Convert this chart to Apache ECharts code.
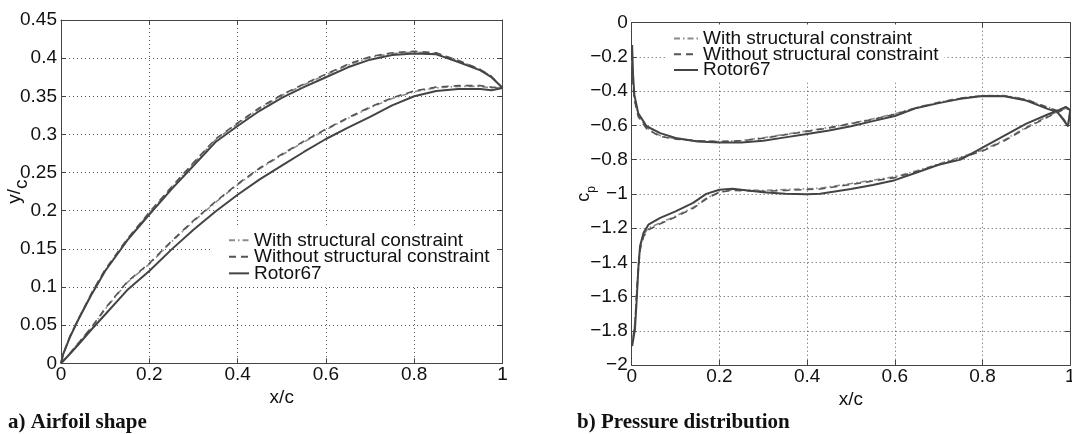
<!DOCTYPE html>
<html>
<head>
<meta charset="utf-8">
<script src="https://cdn.jsdelivr.net/npm/echarts@6/dist/echarts.min.js"></script>
<style>
  html, body { margin: 0; background: #fff; }
  #chart { width: 1072px; height: 434px; }
</style>
</head>
<body>
<div id="chart"></div>
<script>
// ---- a) airfoil shape: chordwise stations, suction (upper) and pressure (lower) surface
const xStations = [0, 0.005, 0.02, 0.04, 0.07, 0.1, 0.15, 0.2, 0.25, 0.3, 0.35, 0.4, 0.45,
  0.5, 0.55, 0.6, 0.65, 0.7, 0.75, 0.8, 0.85, 0.9, 0.95, 0.975, 1.0];
const rotorUpper = [0, 0.012, 0.034, 0.058, 0.091, 0.121, 0.161, 0.195, 0.228, 0.259, 0.29, 0.311,
  0.331, 0.348, 0.362, 0.375, 0.388, 0.398, 0.404, 0.406, 0.405, 0.395, 0.384, 0.375, 0.361];
const withUpper = [0, 0.012, 0.035, 0.059, 0.092, 0.122, 0.162, 0.197, 0.23, 0.262, 0.293, 0.314,
  0.334, 0.351, 0.365, 0.378, 0.391, 0.401, 0.406, 0.408, 0.406, 0.397, 0.385, 0.376, 0.361];
const withoutUpper = [0, 0.012, 0.035, 0.059, 0.093, 0.123, 0.163, 0.198, 0.231, 0.263, 0.294, 0.315,
  0.335, 0.352, 0.366, 0.379, 0.392, 0.402, 0.407, 0.409, 0.407, 0.397, 0.385, 0.376, 0.361];
const rotorLower = [0, 0.003, 0.012, 0.025, 0.045, 0.064, 0.096, 0.121, 0.149, 0.175, 0.199, 0.221,
  0.241, 0.259, 0.277, 0.294, 0.309, 0.323, 0.338, 0.35, 0.357, 0.3595, 0.3595, 0.358, 0.361];
const withLower = [0, 0.003, 0.013, 0.027, 0.047, 0.071, 0.106, 0.13, 0.159, 0.186, 0.211, 0.234,
  0.255, 0.273, 0.29, 0.306, 0.321, 0.335, 0.347, 0.356, 0.361, 0.363, 0.363, 0.361, 0.361];
const withoutLower = [0, 0.003, 0.013, 0.027, 0.048, 0.072, 0.107, 0.131, 0.16, 0.187, 0.212, 0.235,
  0.256, 0.274, 0.291, 0.307, 0.322, 0.336, 0.348, 0.357, 0.362, 0.364, 0.364, 0.362, 0.361];

// ---- b) pressure distribution: two branches of the cp curve
const cpTopX = [0.001, 0.003, 0.006, 0.015, 0.034, 0.065, 0.1, 0.15, 0.2, 0.25, 0.3, 0.35, 0.4, 0.45,
  0.5, 0.55, 0.6, 0.65, 0.7, 0.75, 0.8, 0.85, 0.9, 0.95, 0.97, 0.985, 0.995, 1.0];
const rotorTop = [-0.13, -0.3, -0.42, -0.53, -0.605, -0.645, -0.674, -0.694, -0.7, -0.7, -0.69, -0.67,
  -0.65, -0.63, -0.605, -0.575, -0.545, -0.498, -0.47, -0.445, -0.428, -0.43, -0.455, -0.505, -0.52,
  -0.57, -0.606, -0.51];
const withTop = [-0.22, -0.35, -0.44, -0.54, -0.615, -0.66, -0.678, -0.69, -0.693, -0.688, -0.672,
  -0.652, -0.632, -0.612, -0.588, -0.562, -0.532, -0.495, -0.465, -0.44, -0.426, -0.426, -0.448,
  -0.495, -0.513, -0.563, -0.6, -0.51];
const withoutTop = [-0.25, -0.36, -0.45, -0.55, -0.62, -0.665, -0.68, -0.69, -0.695, -0.69, -0.675,
  -0.655, -0.635, -0.615, -0.59, -0.565, -0.535, -0.497, -0.467, -0.442, -0.427, -0.427, -0.45,
  -0.497, -0.515, -0.565, -0.6, -0.51];
const cpBotX = [0.001, 0.0075, 0.011, 0.015, 0.019, 0.027, 0.038, 0.065, 0.1, 0.14, 0.17, 0.2, 0.23,
  0.3, 0.35, 0.4, 0.43, 0.5, 0.55, 0.6, 0.65, 0.7, 0.75, 0.8, 0.85, 0.9, 0.95, 0.975, 0.99, 1.0];
const rotorBot = [-1.89, -1.79, -1.636, -1.442, -1.306, -1.228, -1.18, -1.14, -1.102, -1.053, -1.0,
  -0.976, -0.97, -0.99, -1.0, -1.003, -1.0, -0.972, -0.948, -0.92, -0.875, -0.83, -0.8, -0.73, -0.66,
  -0.59, -0.535, -0.51, -0.492, -0.51];
const withBot = [-1.87, -1.75, -1.58, -1.42, -1.31, -1.24, -1.2, -1.17, -1.13, -1.08, -1.025, -0.99,
  -0.975, -0.98, -0.975, -0.97, -0.967, -0.94, -0.92, -0.9, -0.865, -0.825, -0.785, -0.745, -0.685,
  -0.61, -0.545, -0.515, -0.5, -0.51];
const withoutBot = [-1.87, -1.76, -1.6, -1.45, -1.33, -1.25, -1.21, -1.175, -1.135, -1.085, -1.03,
  -0.99, -0.98, -0.985, -0.98, -0.975, -0.972, -0.945, -0.925, -0.905, -0.87, -0.83, -0.79, -0.75,
  -0.69, -0.615, -0.55, -0.52, -0.5, -0.51];

// ---- ticks and names
const seriesNames = ['With structural constraint', 'Without structural constraint', 'Rotor67'];
const xTickLabels = ['0', '0.2', '0.4', '0.6', '0.8', '1'];
const shapeTickLabels = ['0', '0.05', '0.1', '0.15', '0.2', '0.25', '0.3', '0.35', '0.4', '0.45'];
const cpTickLabels = ['\u22122', '\u22121.8', '\u22121.6', '\u22121.4', '\u22121.2', '\u22121',
  '\u22120.8', '\u22120.6', '\u22120.4', '\u22120.2', '0'];

const FONT = 'Liberation Sans, Arial, Helvetica, sans-serif';
const FRAME = '#444';
const TEXT = '#111';

// top branch left->right, then bottom branch right->left, as one polyline
function loop(xa, ya, xb, yb) {
  const a = xa.map(function (x, i) { return [x, ya[i]]; });
  const b = xb.map(function (x, i) { return [x, yb[i]]; }).reverse();
  return a.concat(b);
}

function tickFormatter(labels, min, step) {
  return function (v) { return labels[Math.round((v - min) / step)]; };
}

function mainAxis(grid, pos, min, max, step, labels, extra) {
  return Object.assign({
    type: 'value', gridIndex: grid, position: pos, min: min, max: max, interval: step,
    axisLine: { show: true, onZero: false, lineStyle: { color: FRAME, width: 1 } },
    axisTick: { show: true, inside: true, length: 5, lineStyle: { color: FRAME } },
    axisLabel: {
      fontSize: 19, color: TEXT, fontFamily: FONT, margin: pos === 'bottom' ? 2 : 4,
      formatter: tickFormatter(labels, min, step)
    },
    splitLine: { show: true, lineStyle: { type: [1, 3], color: '#555', width: 1 } },
    nameLocation: 'middle',
    nameMoveOverlap: false,
    nameTextStyle: { fontSize: 19, color: TEXT, fontFamily: FONT }
  }, extra);
}

function mirrorAxis(grid, pos, min, max, step) {
  return {
    type: 'value', gridIndex: grid, position: pos, min: min, max: max, interval: step,
    axisLine: { show: true, onZero: false, lineStyle: { color: FRAME, width: 1 } },
    axisTick: { show: true, inside: true, length: 5, lineStyle: { color: FRAME } },
    axisLabel: { show: false },
    splitLine: { show: false }
  };
}

const styles = [
  { color: '#8c8c8c', width: 1.6, type: [6, 3, 1.5, 3] },
  { color: '#555', width: 1.6, type: [7, 5] },
  { color: '#444', width: 2 }
];

function curve(name, idx, data, s) {
  return {
    name: name, type: 'line', xAxisIndex: idx, yAxisIndex: idx, data: data,
    showSymbol: false, symbol: 'none', smooth: false, animation: false,
    lineStyle: s, itemStyle: { color: s.color }, emphasis: { disabled: true }
  };
}

function legendAt(left, top, pad, gap, itemW) {
  return {
    orient: 'vertical', left: left, top: top, padding: pad, itemGap: gap,
    itemWidth: itemW, itemHeight: 2, backgroundColor: '#fff', selectedMode: false,
    itemStyle: { opacity: 0 },
    data: seriesNames,
    textStyle: { fontSize: 19, color: TEXT, fontFamily: FONT }
  };
}

const chart = echarts.init(document.getElementById('chart'));
chart.setOption({
  animation: false,
  backgroundColor: '#fff',
  grid: [
    { left: 61, top: 20, width: 441.5, height: 343.3, outerBoundsMode: 'none', containLabel: false },
    { left: 631.7, top: 22.7, width: 438.5, height: 342.3, outerBoundsMode: 'none', containLabel: false }
  ],
  xAxis: [
    mainAxis(0, 'bottom', 0, 1, 0.2, xTickLabels, { name: 'x/c', nameGap: 25 }),
    mirrorAxis(0, 'top', 0, 1, 0.2),
    mainAxis(1, 'bottom', 0, 1, 0.2, xTickLabels, { name: 'x/c', nameGap: 25 }),
    mirrorAxis(1, 'top', 0, 1, 0.2)
  ],
  yAxis: [
    mainAxis(0, 'left', 0, 0.45, 0.05, shapeTickLabels, {
      name: '{n|y/}{s|c}', nameGap: 30,
      nameTextStyle: {
        fontSize: 19, color: TEXT, fontFamily: FONT,
        rich: {
          n: { fontSize: 19, fontFamily: FONT, color: TEXT, verticalAlign: 'top' },
          s: { fontSize: 19, fontFamily: FONT, color: TEXT, verticalAlign: 'bottom', padding: [7, 0, 0, 0] }
        }
      }
    }),
    mirrorAxis(0, 'right', 0, 0.45, 0.05),
    mainAxis(1, 'left', -2, 0, 0.2, cpTickLabels, {
      name: '{c|c}{p|p}', nameGap: 34,
      nameTextStyle: {
        fontSize: 18, color: TEXT, fontFamily: FONT,
        rich: {
          c: { fontSize: 18, fontFamily: FONT, color: TEXT, verticalAlign: 'top' },
          p: { fontSize: 12, fontFamily: FONT, color: TEXT, verticalAlign: 'bottom', padding: [11, 0, 0, 0] }
        }
      }
    }),
    mirrorAxis(1, 'right', -2, 0, 0.2)
  ],
  legend: [
    legendAt(211, 225, [5.85, 6, 2, 17], -2.5, 20),
    legendAt(667, 24.5, [4.6, 6, 3, 6], -3.3, 24)
  ],
  graphic: [
    { type: 'text', x: 8, y: 423, style: { text: 'a) Airfoil shape', font: 'bold 21px "Liberation Serif", "Times New Roman", serif', fill: TEXT, verticalAlign: 'middle' } },
    { type: 'text', x: 577, y: 423, style: { text: 'b) Pressure distribution', font: 'bold 21px "Liberation Serif", "Times New Roman", serif', fill: TEXT, verticalAlign: 'middle' } }
  ],
  series: [
    curve(seriesNames[0], 0, loop(xStations, withUpper, xStations, withLower), styles[0]),
    curve(seriesNames[1], 0, loop(xStations, withoutUpper, xStations, withoutLower), styles[1]),
    curve(seriesNames[2], 0, loop(xStations, rotorUpper, xStations, rotorLower), styles[2]),
    curve(seriesNames[0], 2, loop(cpTopX, withTop, cpBotX, withBot), styles[0]),
    curve(seriesNames[1], 2, loop(cpTopX, withoutTop, cpBotX, withoutBot), styles[1]),
    curve(seriesNames[2], 2, loop(cpTopX, rotorTop, cpBotX, rotorBot), styles[2])
  ]
});
</script>
</body>
</html>
